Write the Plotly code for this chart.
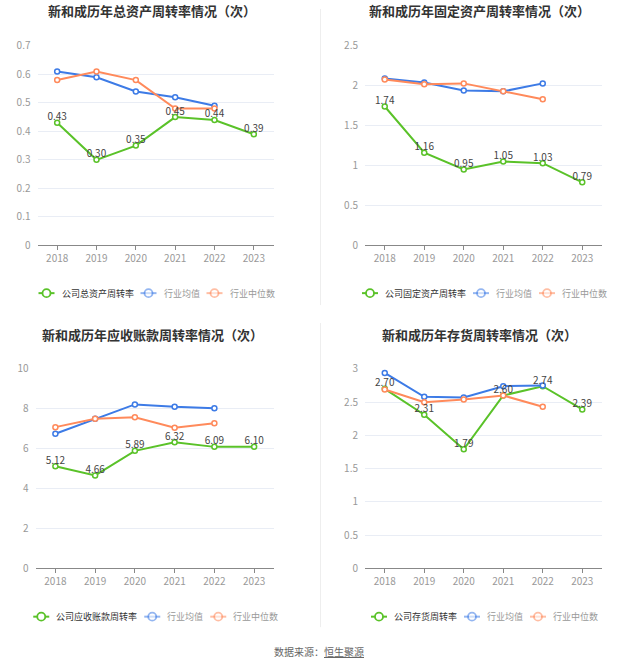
import plotly.graph_objects as go
from plotly.subplots import make_subplots

W, H = 637, 668

years = ["2018", "2019", "2020", "2021", "2022", "2023"]
ind_years = ["2018", "2019", "2020", "2021", "2022"]

# 总资产周转率
total_co = [0.43, 0.30, 0.35, 0.45, 0.44, 0.39]
total_avg = [0.61, 0.59, 0.54, 0.52, 0.49]
total_med = [0.58, 0.61, 0.58, 0.48, 0.48]

# 固定资产周转率
fixed_co = [1.74, 1.16, 0.95, 1.05, 1.03, 0.79]
fixed_avg = [2.09, 2.04, 1.94, 1.93, 2.03]
fixed_med = [2.08, 2.02, 2.03, 1.93, 1.83]

# 应收账款周转率
recv_co = [5.12, 4.66, 5.89, 6.32, 6.09, 6.10]
recv_avg = [6.75, 7.50, 8.22, 8.10, 8.03]
recv_med = [7.08, 7.50, 7.58, 7.05, 7.28]

# 存货周转率
inv_co = [2.70, 2.31, 1.79, 2.60, 2.74, 2.39]
inv_avg = [2.94, 2.58, 2.57, 2.74, 2.75]
inv_med = [2.69, 2.50, 2.54, 2.60, 2.43]

titles = ["新和成历年总资产周转率情况（次）", "新和成历年固定资产周转率情况（次）",
          "新和成历年应收账款周转率情况（次）", "新和成历年存货周转率情况（次）"]
co_names = ["公司总资产周转率", "公司固定资产周转率", "公司应收账款周转率", "公司存货周转率"]
avg_name = "行业均值"
med_name = "行业中位数"

GREEN = "#5ac229"
BLUE = "#3d7be6"
ORANGE = "#ff8a5b"
FONT = "Noto Sans CJK SC"

panels = [
    dict(co=total_co, avg=total_avg, med=total_med, rng=[0, 0.7], dtick=0.1,
         x=(37.5, 273.5), y=(45, 245), tx=152, ty=10, ly=293),
    dict(co=fixed_co, avg=fixed_avg, med=fixed_med, rng=[0, 2.5], dtick=0.5,
         x=(365, 602), y=(45, 245), tx=479, ty=10, ly=293),
    dict(co=recv_co, avg=recv_avg, med=recv_med, rng=[0, 10], dtick=2,
         x=(35.5, 274), y=(369, 569), tx=152, ty=334, ly=617.5),
    dict(co=inv_co, avg=inv_avg, med=inv_med, rng=[0, 3], dtick=0.5,
         x=(365, 602), y=(369, 569), tx=479, ty=334, ly=617.5),
]

fig = make_subplots(rows=2, cols=2)

def px(x):
    return x / W

# the photographed page comes out slightly squeezed vertically; undo that
def py(y):
    y = (y - 8) / 0.979
    return min(1.0, 1 - y / H)

shapes = []
annotations = []

for i, p in enumerate(panels):
    r, c = i // 2 + 1, i % 2 + 1
    mk = lambda col: dict(symbol="circle", size=5, color="white", line=dict(color=col, width=1.5))
    fig.add_trace(go.Scatter(x=years, y=p["co"], mode="lines+markers", line=dict(color=GREEN, width=2),
                             marker=mk(GREEN), showlegend=False, name=co_names[i]), row=r, col=c)
    fig.add_trace(go.Scatter(x=ind_years, y=p["avg"], mode="lines+markers", line=dict(color=BLUE, width=2),
                             marker=mk(BLUE), showlegend=False, name=avg_name), row=r, col=c)
    fig.add_trace(go.Scatter(x=ind_years, y=p["med"], mode="lines+markers", line=dict(color=ORANGE, width=2),
                             marker=mk(ORANGE), showlegend=False, name=med_name), row=r, col=c)
    fig.add_trace(go.Scatter(x=years, y=p["co"], mode="text", text=[f"{v:.2f}" for v in p["co"]],
                             textposition="top center", textfont=dict(size=10, color="#444", family=FONT),
                             showlegend=False, hoverinfo="skip"), row=r, col=c)

    xa = "xaxis" if i == 0 else f"xaxis{i + 1}"
    ya = "yaxis" if i == 0 else f"yaxis{i + 1}"
    fig.layout[xa].update(domain=[px(p["x"][0]), px(p["x"][1])], type="category",
                          categoryorder="array", categoryarray=years, range=[-0.5, 5.5],
                          showgrid=False, showline=True, linecolor="#888", linewidth=1,
                          ticks="outside", ticklen=4, tickcolor="#888",
                          tickfont=dict(size=10, color="#999", family=FONT), fixedrange=True)
    fig.layout[ya].update(domain=[py(p["y"][1]), py(p["y"][0])], range=p["rng"], dtick=p["dtick"],
                          showgrid=True, gridcolor="#e9edf5", gridwidth=1, zeroline=False,
                          showline=False, ticks="", ticklabelstandoff=6,
                          tickfont=dict(size=10, color="#999", family=FONT), fixedrange=True)

    # title
    annotations.append(dict(text=f"<b>{titles[i]}</b>", x=px(p["tx"]), y=py(p["ty"]), xref="paper", yref="paper",
                            xanchor="center", yanchor="middle", showarrow=False,
                            font=dict(size=13, color="#333", family=FONT)))

    # legend row
    items = [(co_names[i], GREEN, "#333", 1.0), (avg_name, BLUE, "#999", 0.55), (med_name, ORANGE, "#999", 0.55)]
    fs = 9
    widths = [16 + 5 + len(n) * fs for n, _, _, _ in items]
    total = sum(widths) + 9 * (len(items) - 1)
    cx = (p["x"][0] + p["x"][1]) / 2
    x0 = cx - total / 2
    ly = p["ly"]
    for (n, col, tcol, op), w in zip(items, widths):
        shapes.append(dict(type="line", xref="paper", yref="paper", x0=px(x0), x1=px(x0 + 16),
                           y0=py(ly), y1=py(ly), line=dict(color=col, width=2), opacity=op))
        shapes.append(dict(type="circle", xref="paper", yref="paper", x0=px(x0 + 8 - 4), x1=px(x0 + 8 + 4),
                           y0=py(ly + 4), y1=py(ly - 4), fillcolor="white",
                           line=dict(color=col, width=1.8), opacity=op))
        annotations.append(dict(text=n, x=px(x0 + 21), y=py(ly), xref="paper", yref="paper",
                                xanchor="left", yanchor="middle", showarrow=False,
                                font=dict(size=fs, color=tcol, family=FONT)))
        x0 += w + 9

# dividers
shapes.append(dict(type="line", xref="paper", yref="paper", x0=px(320.5), x1=px(320.5), y0=py(0), y1=py(305),
                   line=dict(color="#eeeeee", width=1)))
shapes.append(dict(type="line", xref="paper", yref="paper", x0=px(320.5), x1=px(320.5), y0=py(323), y1=py(628),
                   line=dict(color="#eeeeee", width=1)))

# source
annotations.append(dict(text="数据来源：<u>恒生聚源</u>", x=px(319), y=py(652), xref="paper", yref="paper",
                        xanchor="center", yanchor="middle", showarrow=False,
                        font=dict(size=10, color="#666", family=FONT)))

fig.update_layout(width=W, height=H, margin=dict(l=0, r=0, t=0, b=0),
                  paper_bgcolor="white", plot_bgcolor="white",
                  shapes=shapes, annotations=annotations, showlegend=False,
                  font=dict(family=FONT))

pin = ("document.body.style.margin='0';"
       "var g=document.getElementById('{plot_id}');"
       "g.style.position='fixed';g.style.top='0';g.style.left='0';")
fig.write_html("out.html", config={"displayModeBar": False}, post_script=pin)
